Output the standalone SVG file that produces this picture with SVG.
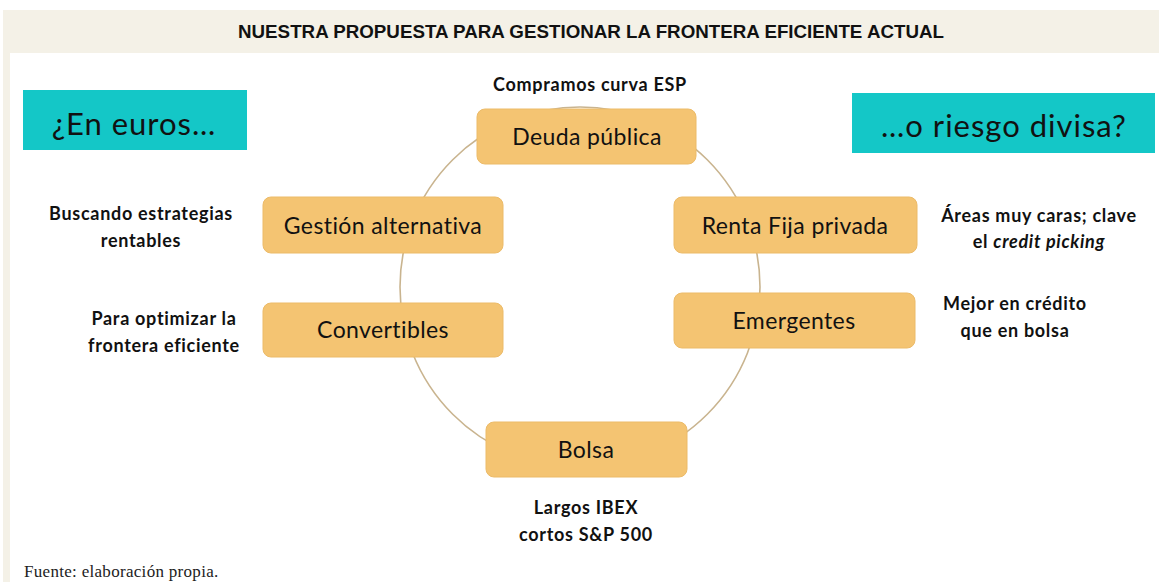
<svg xmlns="http://www.w3.org/2000/svg" width="1159" height="582" viewBox="0 0 1159 582">
<style>
.bg{fill:#f4f1e7}
.title{font-family:"Liberation Sans",Arial,sans-serif;font-weight:bold;font-size:18px;fill:#111}
.box{fill:#f4c472;stroke:#ecbb69;stroke-width:1}
.lbl{font-family:Lato,"Open Sans",sans-serif;font-size:23px;letter-spacing:0.4px;fill:#111;text-anchor:middle}
.teal{fill:#14c7c7}
.tlbl{font-family:Lato,"Open Sans",sans-serif;font-size:31px;letter-spacing:1px;fill:#111;text-anchor:middle}
.note{font-family:Lato,"Open Sans",sans-serif;font-weight:bold;font-size:18px;letter-spacing:0.7px;fill:#111;text-anchor:middle}
.src{font-family:"Liberation Serif","Times New Roman",serif;font-size:17px;letter-spacing:0.3px;fill:#222}
.ring{fill:none;stroke:#c9b48f;stroke-width:1.6}
</style>
<rect x="0" y="0" width="1159" height="582" fill="#ffffff"/>
<rect class="bg" x="3" y="10" width="1156" height="43"/>
<rect class="bg" x="3" y="53" width="7" height="529"/>
<text class="title" x="591" y="38" text-anchor="middle" textLength="706" lengthAdjust="spacingAndGlyphs">NUESTRA PROPUESTA PARA GESTIONAR LA FRONTERA EFICIENTE ACTUAL</text>

<g id="connectors">
<circle class="ring" cx="580" cy="287" r="180"/>
</g>

<g id="euros">
<rect class="teal" x="23" y="90" width="224" height="60"/>
<text class="tlbl" x="134" y="135">¿En euros…</text>
</g>
<g id="divisa">
<rect class="teal" x="852" y="93" width="303" height="60"/>
<text class="tlbl" x="1004" y="137">…o riesgo divisa?</text>
</g>

<g id="deuda">
<rect class="box" x="477" y="109" width="219" height="55" rx="8"/>
<text class="lbl" x="587" y="145">Deuda pública</text>
</g>
<g id="gestion">
<rect class="box" x="263" y="197" width="240" height="56" rx="8"/>
<text class="lbl" x="383" y="234">Gestión alternativa</text>
</g>
<g id="renta">
<rect class="box" x="674" y="197" width="243" height="56" rx="8"/>
<text class="lbl" x="795" y="234">Renta Fija privada</text>
</g>
<g id="convertibles">
<rect class="box" x="263" y="303" width="240" height="54" rx="8"/>
<text class="lbl" x="383" y="338">Convertibles</text>
</g>
<g id="emergentes">
<rect class="box" x="674" y="293" width="241" height="55" rx="8"/>
<text class="lbl" x="794" y="329">Emergentes</text>
</g>
<g id="bolsa">
<rect class="box" x="486" y="422" width="201" height="55" rx="8"/>
<text class="lbl" x="586" y="458">Bolsa</text>
</g>

<g id="notes">
<text class="note" x="590" y="91">Compramos curva ESP</text>
<text class="note" x="141" y="220">Buscando estrategias</text>
<text class="note" x="141" y="247">rentables</text>
<text class="note" x="164" y="325">Para optimizar la</text>
<text class="note" x="164" y="352">frontera eficiente</text>
<text class="note" x="1039" y="222">Áreas muy caras; clave</text>
<text class="note" x="1039" y="248">el <tspan font-style="italic">credit picking</tspan></text>
<text class="note" x="1015" y="310">Mejor en crédito</text>
<text class="note" x="1015" y="337">que en bolsa</text>
<text class="note" x="586" y="514">Largos IBEX</text>
<text class="note" x="586" y="541">cortos S&amp;P 500</text>
</g>
<text class="src" x="24" y="577">Fuente: elaboración propia.</text>
</svg>
